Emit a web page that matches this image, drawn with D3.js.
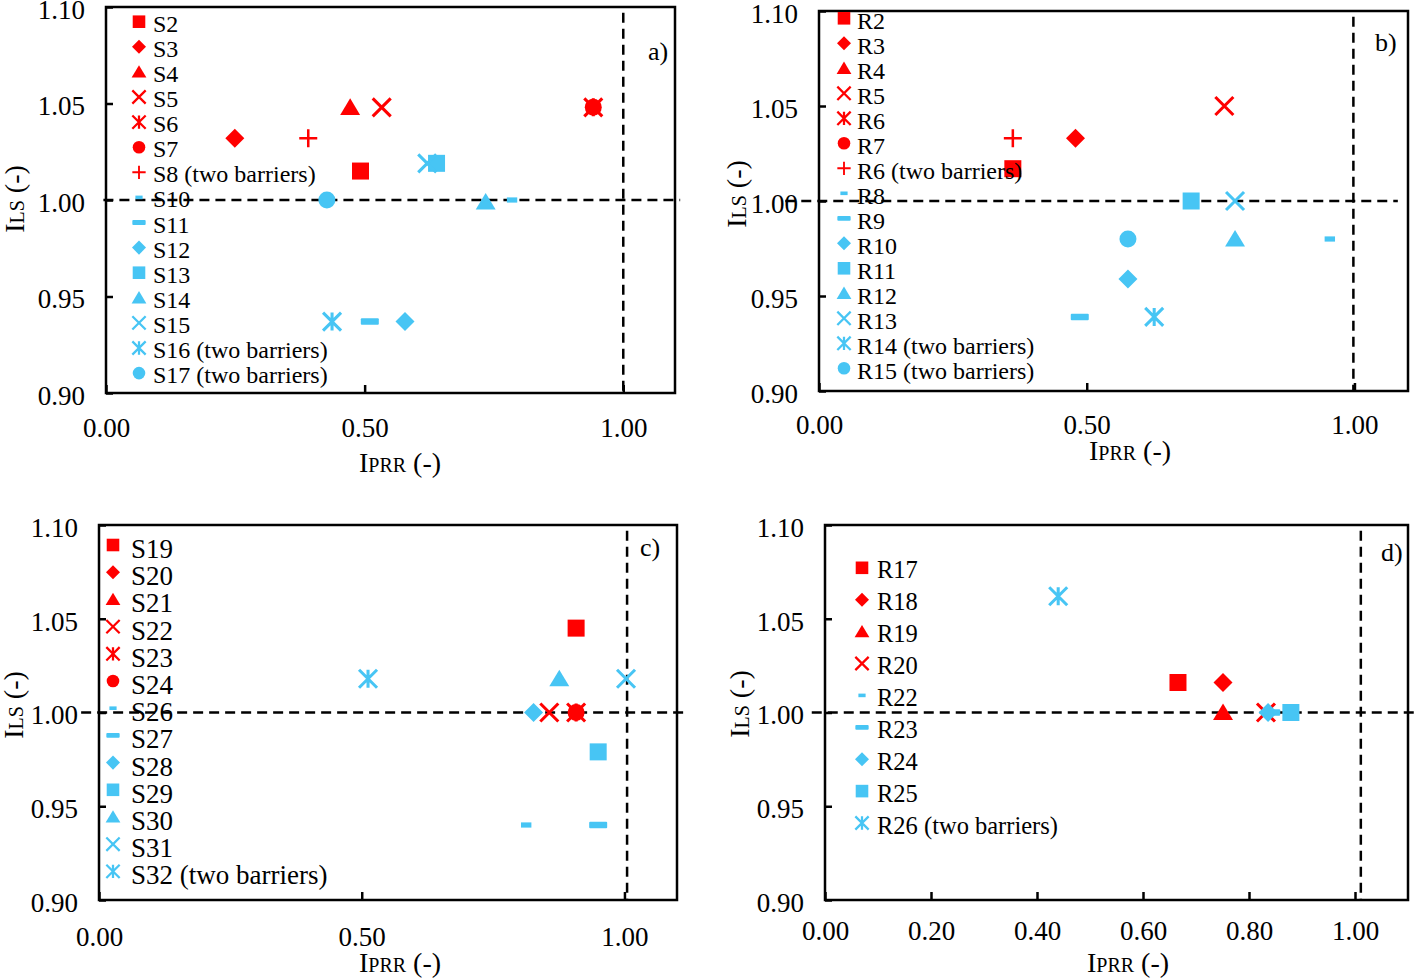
<!DOCTYPE html>
<html><head><meta charset="utf-8">
<script src="https://cdn.jsdelivr.net/npm/d3@7"></script>
<style>
html,body{margin:0;padding:0;background:#fff;}
svg{display:block;}
text{font-family:"Liberation Serif","Times New Roman",serif;fill:#000;}
</style></head><body>
<svg id="chart" width="1418" height="979"></svg>
<script>
// ================= DATA =================
const yTickValues = [0.90, 0.95, 1.00, 1.05, 1.10];
const xTickValuesABC = [0.00, 0.50, 1.00];
const xTickValuesD = [0.00, 0.20, 0.40, 0.60, 0.80, 1.00];
const panelLabels = ["a)", "b)", "c)", "d)"];

// Panel a
const seriesA = ["S2","S3","S4","S5","S6","S7","S8 (two barriers)","S10","S11","S12","S13","S14","S15","S16 (two barriers)","S17 (two barriers)"];
const xA = [0.492,0.249,0.472,0.533,0.942,0.942,0.391,0.785,0.510,0.578,0.639,0.734,0.621,0.437,0.427];
const yA = [1.015,1.032,1.048,1.048,1.048,1.048,1.032,1.000,0.937,0.937,1.019,0.999,1.019,0.937,1.000];

// Panel b
const seriesB = ["R2","R3","R4","R5","R6","R7","R6 (two barriers)","R8","R9","R10","R11","R12","R13","R14 (two barriers)","R15 (two barriers)"];
const xB = [0.362,0.479,null,0.757,null,null,0.362,0.954,0.487,0.577,0.695,0.777,0.777,0.626,0.577];
const yB = [1.017,1.033,null,1.050,null,null,1.033,0.980,0.939,0.959,1.000,0.980,1.000,0.939,0.980];

// Panel c
const seriesC = ["S19","S20","S21","S22","S23","S24","S26","S27","S28","S29","S30","S31","S32 (two barriers)"];
const xC = [0.908,null,null,0.857,0.908,0.908,0.813,0.950,0.827,0.950,0.876,1.003,0.512];
const yC = [1.045,null,null,1.000,1.000,1.000,0.940,0.940,1.000,0.979,1.018,1.018,1.018];

// Panel d
const seriesD = ["R17","R18","R19","R20","R22","R23","R24","R25","R26 (two barriers)"];
const xD = [0.666,0.751,0.751,0.832,null,0.842,0.836,0.879,0.440];
const yD = [1.016,1.016,1.000,1.000,null,1.000,1.000,1.000,1.062];

// ================= STYLE / LAYOUT =================
const RED = "#ff0000", BLUE = "#47c5f4";
const markersAB = ["square","diamond","triangle","x","star","circle","plus","dot","dash","diamond","square","triangle","x","star","circle"];
const markersC = ["square","diamond","triangle","x","star","circle","dot","dash","diamond","square","triangle","x","star"];
const markersD = ["square","diamond","triangle","x","dot","dash","diamond","square","star"];

const panels = [
  {series:seriesA, xs:xA, ys:yA, markers:markersAB, nRed:7, xTicks:xTickValuesABC, label:panelLabels[0],
   box:{l:106,t:7,r:675,b:393}, hLine:[-0.005,1.11], vX:1.0, xLabOff:45, xTitle:{x:400,y:472}, yTitle:{x:18,y:199},
   leg:{mx:139,tx:153,y0:31.7,dy:25.1,fs:24,moff:10}, lab:{x:648,y:60}},
  {series:seriesB, xs:xB, ys:yB, markers:markersAB, nRed:7, xTicks:xTickValuesABC, label:panelLabels[1],
   box:{l:819,t:11,r:1408,b:391}, hLine:[-0.063,1.081], vX:0.998, xLabOff:44, xTitle:{x:1130,y:460}, yTitle:{x:740,y:194},
   leg:{mx:844,tx:857,y0:29.3,dy:25.0,fs:24,moff:11}, lab:{x:1375,y:51}},
  {series:seriesC, xs:xC, ys:yC, markers:markersC, nRed:6, xTicks:xTickValuesABC, label:panelLabels[2],
   box:{l:99,t:525,r:677,b:900}, hLine:[-0.034,1.121], vX:1.005, xLabOff:47, xTitle:{x:400,y:972}, yTitle:{x:17,y:705},
   leg:{mx:113,tx:131,y0:558,dy:27.2,fs:27,moff:13}, lab:{x:640,y:556}},
  {series:seriesD, xs:xD, ys:yD, markers:markersD, nRed:4, xTicks:xTickValuesD, label:panelLabels[3],
   box:{l:825,t:525,r:1408,b:900}, hLine:[-0.025,1.119], vX:1.011, xLabOff:41, xTitle:{x:1128,y:972}, yTitle:{x:743.5,y:704},
   leg:{mx:862,tx:877,y0:578.3,dy:31.9,fs:24.5,moff:10.5}, lab:{x:1381,y:561}}
];

const plotSize = {square:17, diamond:19, triangle:19, x:18, star:18, circle:17, plus:18, dot:13, dash:18};

function drawMarker(sel, type, s, color) {
  const h = s/2;
  switch (type) {
    case "square":
      sel.append("rect").attr("x",-h).attr("y",-h).attr("width",s).attr("height",s).attr("fill",color); break;
    case "diamond":
      sel.append("path").attr("d",`M0,${-h}L${h},0L0,${h}L${-h},0Z`).attr("fill",color); break;
    case "triangle":
      sel.append("path").attr("d",`M0,${-h*0.95}L${h*1.05},${h*0.8}L${-h*1.05},${h*0.8}Z`).attr("fill",color); break;
    case "circle":
      sel.append("circle").attr("r",h).attr("fill",color); break;
    case "x":
      sel.append("path").attr("d",`M${-h},${-h}L${h},${h}M${-h},${h}L${h},${-h}`)
        .attr("stroke",color).attr("stroke-width",Math.max(2,s*0.17)).attr("fill","none"); break;
    case "star":
      sel.append("path").attr("d",`M${-h},${-h}L${h},${h}M${-h},${h}L${h},${-h}M0,${-h}L0,${h}`)
        .attr("stroke",color).attr("stroke-width",Math.max(2,s*0.17)).attr("fill","none"); break;
    case "plus":
      sel.append("path").attr("d",`M${-h},0L${h},0M0,${-h}L0,${h}`)
        .attr("stroke",color).attr("stroke-width",Math.max(1.8,s*0.14)).attr("fill","none"); break;
    case "dash":
      sel.append("rect").attr("x",-h).attr("y",-s*0.18).attr("width",s).attr("height",s*0.36).attr("rx",1).attr("fill",color); break;
    case "dot":
      sel.append("rect").attr("x",-s*0.4).attr("y",-s*0.2).attr("width",s*0.8).attr("height",s*0.4).attr("fill",color); break;
  }
}

const svg = d3.select("#chart");
svg.append("rect").attr("width",1418).attr("height",979).attr("fill","#fff");

panels.forEach(p => {
  const B = p.box;
  const x = d3.scaleLinear().domain([0,1.1]).range([B.l,B.r]);
  const y = d3.scaleLinear().domain([0.9,1.1]).range([B.b,B.t]);
  const g = svg.append("g");

  // axes
  const ya = g.append("g").attr("transform",`translate(${B.l},0)`)
    .call(d3.axisLeft(y).tickValues(yTickValues).tickSize(-7).tickPadding(21).tickFormat(d3.format(".2f")));
  const xa = g.append("g").attr("transform",`translate(0,${B.b})`)
    .call(d3.axisBottom(x).tickValues(p.xTicks).tickSize(-8).tickPadding(p.xLabOff-20).tickFormat(d3.format(".2f")));
  [ya,xa].forEach(a => {
    a.select(".domain").remove();
    a.selectAll(".tick line").attr("stroke","#000").attr("stroke-width",2.5);
    a.selectAll(".tick text").attr("font-size",27).attr("font-family","'Liberation Serif','Times New Roman',serif").attr("fill","#000");
  });
  ya.selectAll(".tick text").attr("dy","0.42em");

  // box
  g.append("rect").attr("x",B.l).attr("y",B.t).attr("width",B.r-B.l).attr("height",B.b-B.t)
    .attr("fill","none").attr("stroke","#000").attr("stroke-width",2.5);

  // reference lines
  g.append("line").attr("x1",x(p.hLine[0])).attr("x2",x(p.hLine[1])).attr("y1",y(1.0)).attr("y2",y(1.0))
    .attr("stroke","#000").attr("stroke-width",2.5).attr("stroke-dasharray","10,6");
  g.append("line").attr("x1",x(p.vX)).attr("x2",x(p.vX)).attr("y1",y(1.097)).attr("y2",y(0.9))
    .attr("stroke","#000").attr("stroke-width",2.5).attr("stroke-dasharray","10,6");

  // points
  p.series.forEach((name,i) => {
    if (p.xs[i] == null || p.ys[i] == null) return;
    const col = i < p.nRed ? RED : BLUE;
    const m = g.append("g").attr("transform",`translate(${x(p.xs[i])},${y(p.ys[i])})`);
    drawMarker(m, p.markers[i], plotSize[p.markers[i]], col);
  });

  // legend
  const L = p.leg;
  p.series.forEach((name,i) => {
    const col = i < p.nRed ? RED : BLUE;
    const by = L.y0 + i*L.dy;
    const m = g.append("g").attr("transform",`translate(${L.mx},${by - L.moff})`);
    const ms = p.markers[i] === "dot" ? 9 : plotSize[p.markers[i]]*0.74;
    drawMarker(m, p.markers[i], ms, col);
    g.append("text").attr("x",L.tx).attr("y",by).attr("font-size",L.fs).text(name);
  });

  // panel label
  g.append("text").attr("x",p.lab.x).attr("y",p.lab.y).attr("font-size",26).text(p.label);

  // x title: I + PRR (small caps) + (-)
  const xt = g.append("text").attr("x",p.xTitle.x).attr("y",p.xTitle.y).attr("text-anchor","middle");
  xt.append("tspan").attr("font-size",28).text("I");
  xt.append("tspan").attr("font-size",20).text("PRR");
  xt.append("tspan").attr("font-size",28).text(" (-)");

  // y title
  const yt = g.append("text").attr("transform",`translate(${p.yTitle.x},${p.yTitle.y}) rotate(-90)`)
    .attr("text-anchor","middle").attr("dy","0.35em");
  yt.append("tspan").attr("font-size",28).text("I");
  yt.append("tspan").attr("font-size",20).text("LS");
  yt.append("tspan").attr("font-size",28).text(" (-)");
});
</script>
</body></html>
